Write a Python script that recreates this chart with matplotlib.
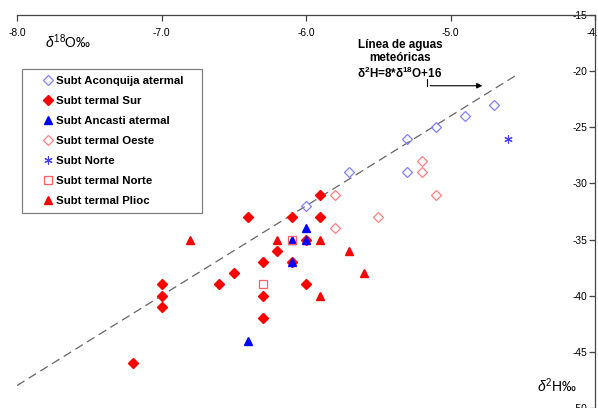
import matplotlib
matplotlib.use("Agg")
import matplotlib.pyplot as plt
import numpy as np

plt.rcParams['font.family'] = ['Liberation Sans', 'DejaVu Sans']
plt.rcParams['mathtext.fontset'] = 'custom'
plt.rcParams['mathtext.rm'] = 'Liberation Sans'
plt.rcParams['mathtext.it'] = 'Liberation Sans:italic'
plt.rcParams['mathtext.bf'] = 'Liberation Sans:bold'
plt.rcParams['axes.unicode_minus'] = False

# data: (d18O, d2H)
aconquija_x = [-4.7, -4.9, -5.1, -5.3, -5.7, -5.3, -6.0]
aconquija_y = [-23, -24, -25, -26, -29, -29, -32]

sur_x = [-5.9, -6.4, -6.1, -5.9, -6.0, -6.2, -6.3, -6.1, -6.5, -7.0, -6.6, -6.0,
         -7.0, -6.3, -7.0, -6.3, -7.2]
sur_y = [-31, -33, -33, -33, -35, -36, -37, -37, -38, -39, -39, -39,
         -40, -40, -41, -42, -46]

ancasti_x = [-6.0, -6.1, -6.0, -6.1, -6.4]
ancasti_y = [-34, -35, -35, -37, -44]

oeste_x = [-5.8, -5.8, -5.2, -5.2, -5.1, -5.5]
oeste_y = [-31, -34, -28, -29, -31, -33]

norte_x = [-4.6]
norte_y = [-26]

tnorte_x = [-6.1, -6.3]
tnorte_y = [-35, -39]

plioc_x = [-6.8, -6.2, -5.9, -5.9, -5.7, -5.6]
plioc_y = [-35, -35, -35, -40, -36, -38]

# meteoric water line d2H = 8*d18O + 16
lmm_x = np.array([-8.0, -4.55])
lmm_y = 8 * lmm_x + 16

fig = plt.figure(figsize=(5.98, 4.08), dpi=100)
ax = fig.add_axes([17/598, 0.0, 578/598, 1 - 15/408])

ax.plot(lmm_x, lmm_y, ls=(0, (7, 4)), color='#666666', lw=0.9, zorder=1)

ms = 5
ax.plot(aconquija_x, aconquija_y, ls='none', marker='D', ms=ms, mfc='none',
        mec='#8080ff', mew=0.9, label='Subt Aconquija atermal')
ax.plot(sur_x, sur_y, ls='none', marker='D', ms=ms, mfc='#ff0000',
        mec='#ff0000', label='Subt termal Sur')
ax.plot(ancasti_x, ancasti_y, ls='none', marker='^', ms=ms+0.5, mfc='#0000ff',
        mec='#0000ff', label='Subt Ancasti atermal')
ax.plot(oeste_x, oeste_y, ls='none', marker='D', ms=ms, mfc='none',
        mec='#ff8080', mew=0.9, label='Subt termal Oeste')
ax.plot(norte_x, norte_y, ls='none', marker=(6, 2, 0), ms=ms+1,
        mec='#4040ff', mew=0.8, label='Subt Norte')
ax.plot(tnorte_x, tnorte_y, ls='none', marker='s', ms=ms+0.5, mfc='none',
        mec='#ff6060', mew=0.9, label='Subt termal Norte')
ax.plot(plioc_x, plioc_y, ls='none', marker='^', ms=ms+0.5, mfc='#ff0000',
        mec='#ff0000', label='Subt termal Plioc')

ax.set_xlim(-8, -4)
ax.set_ylim(-50, -15)
ax.set_xticks(np.arange(-8, -3.9, 1.0))
ax.set_xticklabels(['-8.0', '-7.0', '-6.0', '-5.0', '-4.0'])
ax.set_yticks(np.arange(-50, -14, 5))

# axes cross at (-4, -15) like the original
ax.spines['top'].set_visible(False)
ax.spines['right'].set_visible(False)
ax.spines['bottom'].set_position(('data', -15))
ax.spines['left'].set_position(('data', -4))
for s in ['bottom', 'left']:
    ax.spines[s].set_color('#444444')
    ax.spines[s].set_linewidth(0.9)
ax.tick_params(axis='both', labelsize=7.4, length=4, width=0.9,
               color='#444444', pad=1.5)
ax.tick_params(axis='x', pad=5)

ax.patch.set_alpha(0)

leg = ax.legend(loc='upper left', bbox_to_anchor=(22/598, 1 - 73/408, 180/598, 0.01),
                bbox_transform=fig.transFigure, mode='expand', borderaxespad=0,
                prop={'weight': 'bold', 'size': 8.2}, numpoints=1,
                handlelength=3.4, handletextpad=-1.05, labelspacing=0.88,
                borderpad=0.6, fancybox=False, framealpha=1, edgecolor='#808080')
leg.get_frame().set_linewidth(0.9)

# labels
fig.text(45/598, 1 - 48/408, r'$\delta^{18}$O‰', fontsize=10)
fig.text(537/598, 1 - 392/408, r'$\delta^{2}$H‰', fontsize=10)

ax.text(-5.35, -19.0, 'Línea de aguas\nmeteóricas\nδ$\\mathbf{^{2}}$H=8*δ$\\mathbf{^{18}}$O+16',
        ha='center', va='center', fontsize=8.4, fontweight='bold', linespacing=1.1)
ax.plot([-5.16, -5.16], [-20.7, -21.3], color='black', lw=0.8)
ax.annotate('', xy=(-4.76, -21.3), xytext=(-5.16, -21.3),
            arrowprops=dict(arrowstyle='-|>', color='black', lw=0.8, mutation_scale=8))

fig.savefig('out.png', dpi=100)
